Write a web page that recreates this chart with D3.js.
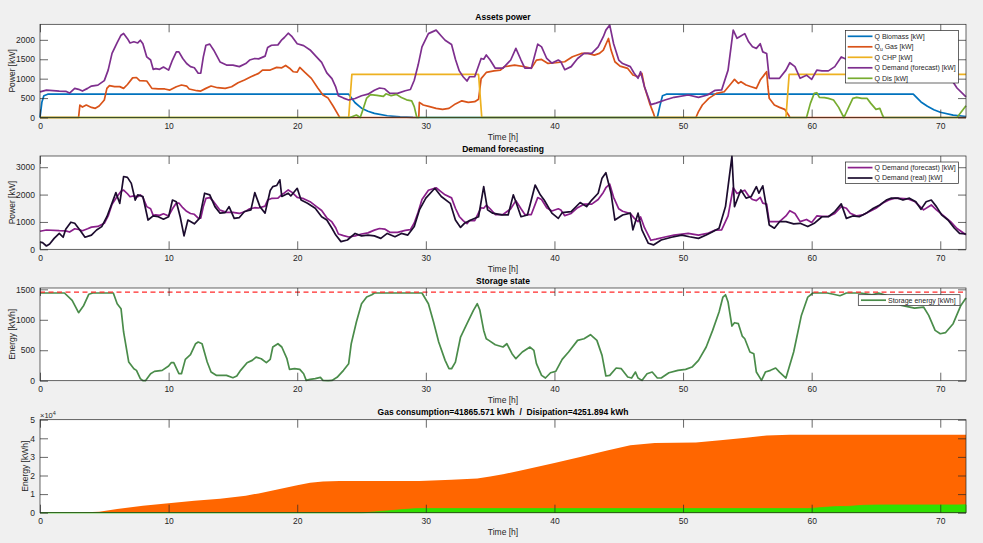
<!DOCTYPE html>
<html>
<head>
<meta charset="utf-8">
<script src="https://cdn.jsdelivr.net/npm/d3@7"></script>
<style>
  body { margin: 0; background: #f0f0f0; }
  svg { display: block; font-family: "Liberation Sans", Arial, sans-serif; }
</style>
</head>
<body>
<svg id="fig" width="983" height="543"></svg>
<script>
// ---- data ----
const xTicks = [0, 10, 20, 30, 40, 50, 60, 70];

const bioT = [0, 0.15, 0.3, 0.6, 24, 24.5, 25, 25.5, 26, 27, 28, 29, 30, 48.0, 48.2, 48.4, 48.7, 67.9, 68.5, 69, 69.5, 70, 71, 72];
const bioV = [0, 400, 560, 600, 600, 380, 240, 160, 105, 45, 18, 5, 0, 0, 300, 560, 600, 600, 400, 290, 200, 135, 60, 25];

const gasT = [0, 3.0, 3.1, 3.3, 3.6, 4.0, 4.3, 4.6, 5.0, 5.2, 5.4, 5.8, 6.2, 6.5, 6.8, 7.2, 7.5, 7.75, 8.3, 8.7, 9.2, 9.7, 10.1, 10.6, 11.0, 11.4, 11.6, 12.2, 12.5, 12.9, 13.3, 13.8, 14.4, 14.9, 15.4, 15.9, 16.4, 17.0, 17.3, 17.9, 18.4, 18.8, 19.1, 19.4, 19.7, 20.0, 20.2, 20.6, 21.1, 21.6, 22.0, 22.4, 22.8, 23.2, 23.3,
  29.45, 29.5, 29.8, 30.3, 30.8, 31.3, 31.8, 32.3, 32.8, 33.3, 33.8, 34.1, 34.3, 34.7, 35.3, 35.8, 36.1, 36.9, 37.7, 38.2, 38.6, 39.0, 39.5, 40.1, 40.8, 41.4, 42.1, 42.6, 43.1, 43.5, 43.8, 44.2, 44.4, 44.7, 45.1, 45.7, 46.1, 46.5, 46.8, 47.0, 47.4, 47.7, 47.8,
  51.0, 51.2, 51.5, 52.0, 52.6, 53.2, 53.8, 54.0, 54.3, 54.5, 54.9, 55.3, 55.7, 56.0, 56.4, 56.5, 56.6, 56.7, 57.1, 57.5, 57.9, 58.2, 58.3, 72];
const gasV = [0, 0, 320, 270, 320, 260, 236, 296, 450, 750, 820, 795, 795, 750, 850, 1020, 1030, 950, 940, 750, 735, 735, 707, 793, 836, 810, 735, 690, 680, 750, 810, 767, 750, 793, 896, 964, 1050, 1136, 1221, 1221, 1290, 1280, 1340, 1270, 1178, 1170, 1290, 1160, 1007, 760, 578, 500, 290, 60, 0,
  0, 390, 321, 279, 236, 210, 236, 350, 430, 390, 407, 470, 1000, 1160, 1200, 1221, 1307, 1350, 1307, 1264, 1478, 1496, 1393, 1410, 1435, 1564, 1650, 1650, 1607, 1650, 1736, 2035, 1736, 1435, 1324, 1264, 1093, 1050, 1136, 793, 364, 107, 0,
  0, 150, 321, 493, 621, 664, 900, 981, 878, 921, 836, 793, 750, 964, 1136, 1178, 793, 493, 321, 261, 210, 64, 0, 0];

const chpT = [0, 24.0, 24.25, 34.1, 34.35, 58.0, 58.25, 72];
const chpV = [0, 0, 1110, 1110, 0, 0, 1110, 1110];

const fcT = [0, 0.5, 1.5, 2.0, 2.3, 2.7, 3.0, 3.3, 3.7, 4.0, 4.5, 5.0, 5.3, 5.6, 6.0, 6.3, 6.5, 6.8, 7.0, 7.3, 7.6, 7.8, 8.0, 8.3, 8.6, 8.8, 9.0, 9.3, 9.6, 10.0, 10.3, 10.6, 10.8, 11.1, 11.4, 11.7, 12.0, 12.3, 12.5, 12.7, 12.9, 13.2, 13.5, 14.0, 14.5, 15.0, 15.5, 16.0, 16.3, 16.7, 17.0, 17.5, 17.7, 18.0, 18.5, 18.8, 19.0, 19.3, 19.6, 20.0, 20.5, 21.0, 21.5, 21.9, 22.3, 22.7, 23.0, 23.2, 23.6, 24.0, 24.5, 25.0, 25.5, 26.0, 26.4, 26.8, 27.2, 27.8, 28.4, 28.8, 29.1, 29.4, 29.7, 30.2, 30.8, 31.2, 31.5, 32.0, 32.3, 32.6, 32.9, 33.2, 33.4, 33.8, 34.3, 34.5, 34.7, 35.0, 35.4, 36.0, 36.6, 37.0, 37.4, 37.7, 38.2, 38.7, 39.0, 39.4, 39.8, 40.3, 40.5, 40.8, 41.3, 41.8, 42.3, 42.9, 43.4, 43.8, 44.0, 44.3, 44.6, 45.0, 45.3, 45.9, 46.2, 46.5, 46.7, 47.0, 47.5, 47.9, 48.6, 49.3, 50.4, 51.2, 51.9, 52.5, 53.0, 53.5, 53.9, 54.2, 54.4, 54.8, 55.1, 55.4, 55.7, 56.0, 56.2, 56.5, 56.7, 57.5, 58.0, 58.3, 58.7, 59.1, 59.6, 60.0, 60.4, 60.8, 61.3, 61.8, 62.3, 62.7, 63.0, 63.5, 64.0, 64.5, 65.0, 65.5, 66.0, 66.5, 67.5, 68.0, 68.7, 69.3, 69.7, 70.2, 70.8, 71.3, 72.0];
const fcV = [660, 705, 680, 675, 630, 750, 725, 680, 750, 810, 835, 950, 1220, 1650, 1930, 2120, 2165, 2030, 1920, 1950, 1920, 1990, 1900, 1560, 1480, 1240, 1260, 1240, 1300, 1220, 1480, 1690, 1690, 1520, 1390, 1310, 1280, 1140, 1140, 1560, 1860, 1890, 1740, 1430, 1350, 1350, 1310, 1390, 1480, 1520, 1510, 1580, 1800, 1860, 1870, 2000, 2060, 2170, 2080, 1900, 1850, 1740, 1560, 1420, 1150, 1000, 780, 560, 500, 450, 490, 560, 600, 700, 760, 740, 620, 620, 690, 720, 960, 1350, 1820, 2160, 2250, 2100, 1990, 1880, 1500, 1200, 1050, 940, 1050, 1050, 1520, 1500, 1610, 1480, 1270, 1270, 1480, 1780, 1480, 1270, 1270, 1890, 1820, 1520, 1400, 1480, 1435, 1230, 1310, 1520, 1650, 1650, 1820, 2080, 2250, 2380, 1900, 1480, 1390, 1310, 1140, 1010, 1180, 790, 330, 370, 450, 520, 580, 520, 580, 700, 710, 1220, 2250, 2040, 2080, 2160, 1950, 1820, 1780, 1900, 1690, 1650, 1010, 1010, 1220, 1410, 1310, 1010, 1090, 980, 1220, 1200, 1200, 1310, 1560, 1500, 1320, 1220, 1260, 1380, 1500, 1680, 1800, 1870, 1840, 1750, 1440, 1620, 1440, 1250, 1010, 760, 530];

const disT = [0, 24.1, 24.4, 24.6, 24.9, 25.1, 25.4, 25.7, 26.2, 26.7, 26.9, 27.3, 27.7, 28.1, 28.5, 28.9, 29.1, 29.3,
  59.6, 59.9, 60.2, 60.4, 60.6, 61.0, 61.3, 61.7, 62.1, 62.5, 62.6, 62.9, 63.2, 63.5, 63.9, 64.3, 64.6, 65.0, 65.3, 65.5, 65.6, 71.3, 72];
const disV = [0, 0, 39, 64, 0, 193, 500, 590, 570, 545, 610, 560, 595, 515, 455, 430, 279, 0,
  0, 364, 621, 638, 518, 510, 493, 450, 261, 0, 64, 279, 493, 518, 493, 493, 364, 210, 236, 64, 0, 0, 300];

const realT = [0, 0.2, 0.5, 0.75, 1.1, 1.5, 1.8, 2.0, 2.4, 2.7, 3.1, 3.5, 4.0, 4.4, 4.8, 5.2, 5.5, 5.9, 6.2, 6.5, 6.8, 7.1, 7.4, 7.6, 8.0, 8.4, 8.8, 9.2, 9.6, 10.0, 10.3, 10.6, 10.9, 11.2, 11.5, 12.0, 12.4, 12.8, 13.2, 13.6, 14.0, 14.4, 14.7, 15.1, 15.5, 15.9, 16.4, 16.7, 17.1, 17.5, 17.9, 18.1, 18.4, 18.65, 18.8, 19.3, 19.5, 20.0, 20.3, 20.8, 21.4, 21.9, 22.3, 22.7, 23.0, 23.4, 23.9, 24.5, 25.0, 25.5, 26.0, 26.5, 27.0, 27.6, 28.1, 28.6, 29.1, 29.5, 30.0, 30.7, 31.2, 31.9, 32.3, 32.7, 33.0, 33.5, 34.1, 34.5, 34.8, 35.2, 35.9, 36.4, 36.8, 37.0, 37.4, 37.9, 38.5, 38.9, 39.2, 39.8, 40.3, 40.6, 41.3, 42.0, 42.5, 42.9, 43.4, 43.7, 44.0, 44.4, 44.7, 45.3, 45.9, 46.1, 46.5, 46.8, 47.3, 47.7, 48.3, 49.1, 49.9, 50.5, 51.2, 51.8, 52.3, 52.8, 53.3, 53.8, 54.0, 54.3, 54.5, 54.9, 55.3, 55.7, 55.9, 56.2, 56.5, 56.7, 57.1, 57.5, 58.0, 58.6, 59.1, 59.7, 60.2, 60.8, 61.3, 61.8, 62.3, 62.7, 63.2, 63.7, 64.3, 64.8, 65.3, 65.8, 66.2, 66.7, 67.1, 67.6, 68.1, 68.5, 68.9, 69.3, 69.7, 70.1, 70.6, 71.1, 71.5, 72.0];
const realV = [260, 243, 121, 194, 400, 584, 440, 730, 990, 950, 706, 440, 520, 706, 830, 1190, 1560, 2070, 1680, 2660, 2630, 2410, 1800, 1990, 1930, 1070, 1220, 1190, 1100, 1190, 1800, 1740, 1190, 490, 1070, 930, 1130, 2050, 1990, 1560, 1320, 1340, 1560, 1130, 1160, 1380, 1440, 2070, 1560, 1320, 2150, 2290, 2330, 2540, 1930, 2050, 1950, 2230, 1800, 1680, 1500, 1190, 1070, 770, 520, 280, 340, 580, 490, 520, 490, 400, 580, 460, 580, 520, 830, 1440, 1870, 2230, 1930, 1680, 1070, 800, 950, 1070, 1190, 2290, 1440, 1320, 1260, 1255, 1990, 1740, 1190, 1255, 2350, 1990, 1800, 1320, 1130, 1340, 1380, 1710, 1560, 1800, 2050, 2600, 2800, 2050, 1070, 1255, 1320, 710, 1320, 710, 220, 160, 340, 440, 520, 460, 400, 520, 645, 770, 1560, 3400, 1560, 1930, 2170, 1870, 1930, 2290, 2050, 2320, 1500, 890, 770, 1010, 1010, 930, 950, 830, 950, 1190, 1190, 1380, 1660, 1130, 1220, 1190, 1340, 1500, 1620, 1800, 1870, 1870, 1800, 1870, 1740, 1460, 1740, 1800, 1560, 1260, 1070, 770, 580, 560];

const stoT = [0, 1.9, 2.5, 3.0, 3.4, 3.8, 4.1, 5.7, 6.0, 6.3, 6.5, 6.9, 7.3, 7.5, 7.8, 8.0, 8.2, 8.6, 8.9, 9.5, 10.0, 10.2, 10.4, 10.8, 11.0, 11.3, 11.7, 12.1, 12.3, 12.6, 13.0, 13.3, 13.7, 14.5, 15.0, 15.3, 15.6, 16.1, 16.5, 16.8, 17.2, 17.6, 17.9, 18.1, 18.5, 18.8, 19.2, 19.4, 19.8, 20.2, 20.5, 20.7, 21.0, 21.4, 21.8, 22.0, 22.4, 22.7, 23.1, 23.6, 24.0, 24.2, 24.6, 25.0, 25.4, 25.8, 26.0, 29.7, 30.2, 30.6, 31.0, 31.5, 31.8, 32.0, 32.3, 32.7, 33.2, 33.7, 34.0, 34.2, 34.5, 34.7, 34.9, 35.4, 36.0, 36.3, 36.7, 37.0, 37.5, 38.1, 38.4, 38.6, 39.0, 39.3, 39.7, 40.1, 40.6, 41.1, 41.8, 42.3, 42.8, 43.3, 43.7, 44.0, 44.3, 44.8, 45.2, 45.7, 46.0, 46.3, 46.5, 46.8, 47.2, 47.6, 48.0, 48.3, 48.9, 49.6, 50.2, 50.7, 51.2, 51.8, 52.3, 52.8, 53.1, 53.3, 53.5, 53.8, 54.0, 54.3, 54.6, 54.8, 55.2, 55.5, 55.7, 56.1, 56.4, 56.8, 57.2, 57.5, 58.0, 58.6, 59.2, 59.7, 60.1, 61.2, 61.7, 62.2, 62.7, 63.8, 64.7, 65.2, 65.8, 66.4, 66.9, 68.0, 68.7, 69.1, 69.6, 70.0, 70.4, 71.0, 71.6, 72.0];
const stoV = [1440, 1440, 1318, 1116, 1236, 1420, 1440, 1440, 1264, 1182, 800, 306, 197, 170, 33, 0, 0, 115, 153, 170, 241, 296, 296, 115, 115, 350, 427, 607, 634, 607, 306, 142, 88, 88, 49, 77, 170, 296, 334, 388, 361, 296, 350, 553, 607, 553, 361, 186, 197, 186, 115, 5, 22, 33, 55, 5, 0, 5, 55, 170, 279, 607, 963, 1264, 1373, 1411, 1440, 1440, 1264, 963, 634, 334, 197, 197, 306, 717, 936, 1155, 1264, 1160, 826, 689, 662, 591, 553, 607, 443, 361, 471, 553, 498, 279, 88, 44, 131, 153, 350, 471, 662, 689, 755, 662, 416, 77, 88, 208, 197, 60, 44, 142, 44, 5, 115, 142, 44, 44, 131, 170, 186, 224, 334, 553, 826, 1127, 1373, 1411, 1291, 897, 952, 936, 733, 689, 471, 443, 142, 5, 142, 170, 208, 142, 44, 471, 1072, 1373, 1440, 1440, 1420, 1395, 1440, 1440, 1410, 1440, 1400, 1320, 1240, 1192, 1209, 1072, 826, 771, 788, 936, 1236, 1357];
const stoMax = 1455;

const gasCumT = [0, 3, 4.6, 6, 8, 10, 12, 14, 16, 17, 18, 20, 21, 22, 23.3, 29.5, 32, 34, 35, 36, 37.3, 40, 42, 44.1, 45.9, 47.8, 51, 52.9, 54.9, 56.5, 58.3, 72];
const gasCumV = [0, 100, 540, 1970, 3760, 5020, 6450, 7530, 9140, 10390, 11830, 14700, 16130, 16840, 17050, 17100, 17740, 18400, 19400, 20700, 22500, 26700, 29900, 33500, 36300, 37500, 37700, 39000, 40300, 41500, 41866, 41866];
const disCumT = [0, 25.0, 25.5, 26, 27, 28, 29, 29.4, 59.7, 60.2, 61, 62, 62.6, 63, 64, 65, 65.6, 71.3, 72];
const disCumV = [0, 0, 100, 400, 970, 1540, 2060, 2230, 2230, 2420, 2880, 3300, 3350, 3460, 3960, 4120, 4160, 4160, 4252];

// ---- layout ----
const svg = d3.select("#fig");
const L = 40, R = 966;
const axCol = "#262626";
const x = d3.scaleLinear().domain([0, 72]).range([L, R]);
const pts = (t, v) => d3.zip(t, v);

function panel(top, bottom, ymax, yTicks, yFmt, title, xlab, ylab, ylabX) {
  const y = d3.scaleLinear().domain([0, ymax]).range([bottom, top]);
  const g = svg.append("g");
  g.append("rect").attr("x", L).attr("y", top).attr("width", R - L).attr("height", bottom - top).attr("fill", "#fff");
  const data = g.append("g");
  const ax = g.append("g");

  ax.append("g").attr("transform", `translate(0,${bottom})`)
    .call(d3.axisBottom(x).tickValues(xTicks).tickSizeInner(-8).tickSizeOuter(0).tickPadding(5.5));
  ax.append("g").attr("transform", `translate(0,${top})`)
    .call(d3.axisTop(x).tickValues(xTicks).tickSizeInner(-8).tickSizeOuter(0).tickFormat(""));
  ax.append("g").attr("transform", `translate(${L},0)`)
    .call(d3.axisLeft(y).tickValues(yTicks).tickSizeInner(-8).tickSizeOuter(0).tickPadding(5).tickFormat(yFmt));
  ax.append("g").attr("transform", `translate(${R},0)`)
    .call(d3.axisRight(y).tickValues(yTicks).tickSizeInner(-8).tickSizeOuter(0).tickFormat(""));
  ax.selectAll(".domain").remove();
  ax.selectAll(".tick line").attr("stroke", axCol).attr("stroke-width", 0.7);
  ax.selectAll(".tick text").attr("fill", axCol).attr("font-size", 8.5)
    .attr("font-family", "Liberation Sans, Arial, sans-serif");
  ax.selectAll("g").attr("font-family", null).attr("font-size", null);

  ax.append("rect").attr("x", L).attr("y", top).attr("width", R - L).attr("height", bottom - top)
    .attr("fill", "none").attr("stroke", axCol).attr("stroke-width", 0.7);

  svg.append("text").attr("x", (L + R) / 2).attr("y", top - 7.3).attr("dy", "0.35em")
    .attr("text-anchor", "middle").attr("font-size", 8.5).attr("font-weight", "bold").attr("fill", "#000")
    .style("white-space", "pre").text(title);
  svg.append("text").attr("x", (L + R) / 2).attr("y", bottom + 19.8).attr("dy", "0.35em")
    .attr("text-anchor", "middle").attr("font-size", 8.5).attr("fill", axCol).text(xlab);
  svg.append("text").attr("transform", `translate(${ylabX},${(top + bottom) / 2}) rotate(-90)`)
    .attr("dy", "0.35em").attr("text-anchor", "middle").attr("font-size", 8.5).attr("fill", axCol).text(ylab);
  return { y, data, top, bottom };
}

function drawLine(p, t, v, color, w, dash) {
  const line = d3.line().x(d => x(d[0])).y(d => p.y(d[1]));
  const path = p.data.append("path").datum(pts(t, v)).attr("d", line)
    .attr("fill", "none").attr("stroke", color).attr("stroke-width", w || 1.7)
    .attr("stroke-linejoin", "round");
  if (dash) path.attr("stroke-dasharray", dash);
}

function legend(bx, by, bw, bh, rows, rowY0, rowDy, lx0, lx1) {
  const g = svg.append("g");
  g.append("rect").attr("x", bx).attr("y", by).attr("width", bw).attr("height", bh)
    .attr("fill", "#fff").attr("stroke", axCol).attr("stroke-width", 0.7);
  rows.forEach((r, i) => {
    const yy = rowY0 + i * rowDy;
    g.append("line").attr("x1", lx0).attr("x2", lx1).attr("y1", yy).attr("y2", yy)
      .attr("stroke", r.color).attr("stroke-width", 1.7);
    const t = g.append("text").attr("x", lx1 + 2).attr("y", yy).attr("dy", "0.35em")
      .attr("font-size", 7).attr("fill", axCol);
    if (r.sub) {
      t.append("tspan").text(r.pre);
      t.append("tspan").attr("font-size", 5).attr("dy", "0.3em").text(r.sub);
      t.append("tspan").attr("dy", "-0.3em").text(r.post);
    } else t.text(r.label);
  });
}

const colBio = "#0072bd", colGas = "#d95319", colChp = "#edb120", colDem = "#7e2f8e", colDis = "#77ac30";
const colFc = "#8a1f8a", colReal = "#1c0c2e", colSto = "#4a8c4a";

// ---- 1: Assets power ----
const p1 = panel(24.3, 117.5, 2400, [0, 500, 1000, 1500, 2000], d3.format("d"), "Assets power", "Time [h]", "Power [kW]", 12);
drawLine(p1, bioT, bioV, colBio);
drawLine(p1, gasT, gasV, colGas);
drawLine(p1, chpT, chpV, colChp);
drawLine(p1, fcT, fcV, colDem);
drawLine(p1, disT, disV, colDis);
legend(845.5, 30.5, 113, 52.5, [
  { color: colBio, label: "Q Biomass [kW]" },
  { color: colGas, pre: "Q", sub: "u", post: " Gas [kW]" },
  { color: colChp, label: "Q CHP [kW]" },
  { color: colDem, label: "Q Demand (forecast) [kW]" },
  { color: colDis, label: "Q Dis [kW]" }
], 36.3, 10.5, 847.7, 872.5);

// ---- 2: Demand forecasting ----
const p2 = panel(156, 249.3, 3410, [0, 1000, 2000, 3000], d3.format("d"), "Demand forecasting", "Time [h]", "Power [kW]", 12);
drawLine(p2, fcT, fcV, colFc);
drawLine(p2, realT, realV, colReal);
legend(845.5, 162, 113, 21.5, [
  { color: colFc, label: "Q Demand (forecast) [kW]" },
  { color: colReal, label: "Q Demand (real) [kW]" }
], 167.6, 10.4, 847.7, 872.5);

// ---- 3: Storage state ----
const p3 = panel(288, 380.7, 1522, [0, 500, 1000, 1500], d3.format("d"), "Storage state", "Time [h]", "Energy [kWh]", 12);
drawLine(p3, stoT, stoV, colSto);
drawLine(p3, [0, 72], [stoMax, stoMax], "#ff2a2a", 1.3, "5,3.5");
legend(858.3, 294.7, 101.7, 10.8, [
  { color: colSto, label: "Storage energy [kWh]" }
], 300.2, 0, 861, 886);

// ---- 4: Gas consumption ----
const p4 = panel(419.7, 512.7, 50000, [0, 10000, 20000, 30000, 40000, 50000], v => v / 1e4,
  "Gas consumption=41865.571 kWh  /  Disipation=4251.894 kWh", "Time [h]", "Energy [kWh]", 25);
const area4 = d3.area().x(d => x(d[0])).y0(p4.y(0)).y1(d => p4.y(d[1]));
p4.data.append("path").datum(pts(gasCumT, gasCumV)).attr("d", area4).attr("fill", "#ff6600");
p4.data.append("path").datum(pts(disCumT, disCumV)).attr("d", area4).attr("fill", "#30e000")
  .attr("stroke", "#30e000").attr("stroke-width", 0.8);
const ex = svg.append("text").attr("x", 40).attr("y", 415).attr("dy", "0.35em").attr("font-size", 7.5).attr("fill", axCol);
ex.append("tspan").text("\u00d710");
ex.append("tspan").attr("font-size", 5.5).attr("dy", "-0.45em").text("4");
</script>
</body>
</html>
